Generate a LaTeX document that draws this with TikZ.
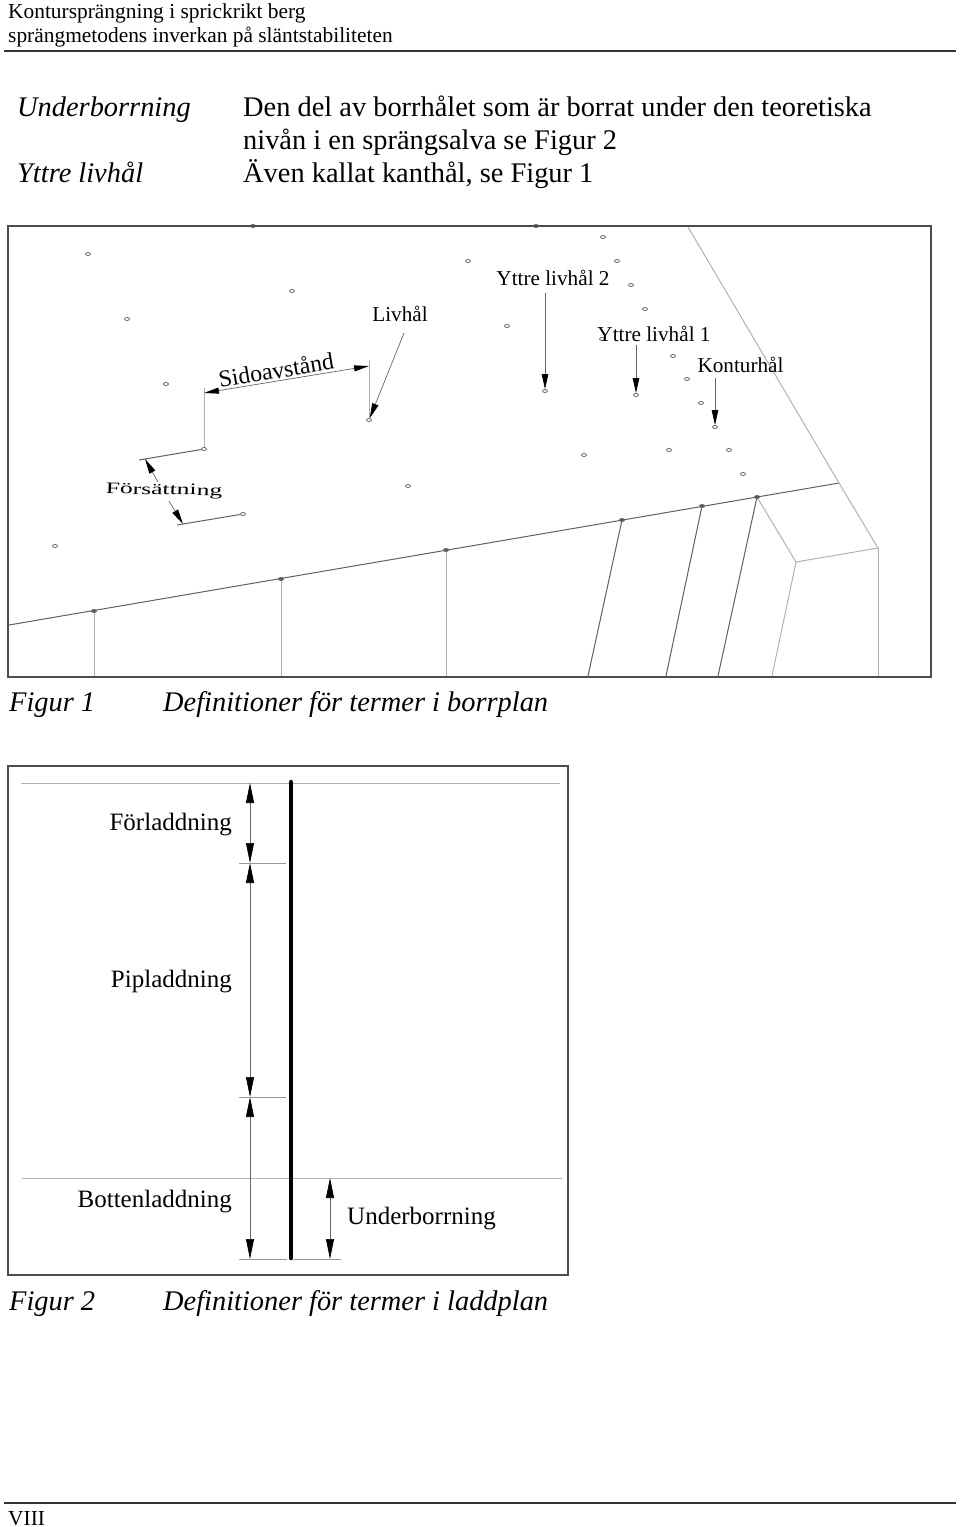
\documentclass[tikz,border=0pt]{standalone}
\usepackage{fontspec}
\setmainfont{Liberation Serif}
\usetikzlibrary{arrows.meta,shapes.geometric}

\tikzset{
  txt/.style={inner sep=0pt,anchor=base west},
  head/.style={txt,font=\fontsize{21.4}{22}\selectfont},
  body/.style={txt,font=\fontsize{28.4}{28}\selectfont},
  capt/.style={txt,font=\fontsize{28.4}{28}\selectfont\itshape},
  lbl/.style={inner sep=0pt,font=\fontsize{21.2}{22}\selectfont},
  big/.style={inner sep=0pt,font=\fontsize{25}{25}\selectfont},
  hole/.style={ellipse,draw=gray!80!black,line width=0.8pt,inner sep=0pt,minimum width=5pt,minimum height=3pt},
  hit/.style={hole,fill=gray!70!black},
  frame/.style={draw=black!70,line width=1.6pt},
  thin line/.style={draw=gray!60,line width=1pt},
  rock/.style={draw=gray!75!black,line width=1pt},
  slim/.style={draw=black!60,line width=0.7pt,-{Triangle[length=15pt,width=6.5pt,black]}},
  dim/.style={draw=black!60,line width=0.7pt,{Triangle[length=20pt,width=8pt,black]}-{Triangle[length=20pt,width=8pt,black]}},
  tick/.style={draw=gray!80,line width=1pt}
}

\begin{document}
\begin{tikzpicture}[x=1pt,y=-1pt]
\useasboundingbox (0,0) rectangle (960,1527);

% page head
\node[head] (H1) at (8,18) {Kontursprängning i sprickrikt berg};
\node[head] (H2) at (8,42) {sprängmetodens inverkan på släntstabiliteten};
\coordinate (HL) at (4,51);
\coordinate (HR) at (956,51);
\path (HL) edge [draw=black!80,line width=1.8pt] (HR);

\node[capt] (T1) at (17,116) {Underborrning};
\node[body] (D1) at (243,116) {Den del av borrhålet som är borrat under den teoretiska};
\node[body] (D2) at (243,149) {nivån i en sprängsalva se Figur 2};
\node[capt] (T2) at (17,182) {Yttre livhål};
\node[body] (D3) at (243,182) {Även kallat kanthål, se Figur 1};

% figure 1
\node[hit] (h27) at (253,226) {};
\node[hit] (h28) at (536,226) {};
\draw[frame] (8,226) rectangle (931,677);

\node[hole] (h1) at (88,254) {};
\node[hole] (h2) at (292,291) {};
\node[hole] (h3) at (127,319) {};
\node[hole] (h4) at (166,384) {};
\node[hole] (h5) at (204,449) {};
\node[hole] (h6) at (369,420) {};
\node[hole] (h7) at (243,514) {};
\node[hole] (h8) at (408,486) {};
\node[hole] (h9) at (468,261) {};
\node[hole] (h10) at (55,546) {};
\node[hole] (h11) at (603,237) {};
\node[hole] (h12) at (617,261) {};
\node[hole] (h13) at (631,285) {};
\node[hole] (h14) at (645,309) {};
\node[hole] (h15) at (507,326) {};
\node[hole] (h16) at (602,339) {};
\node[hole] (h17) at (673,356) {};
\node[hole] (h18) at (687,379) {};
\node[hole] (h19) at (701,403) {};
\node[hole] (h20) at (545,391) {};
\node[hole] (h21) at (636,395) {};
\node[hole] (h22) at (715,427) {};
\node[hole] (h23) at (584,455) {};
\node[hole] (h24) at (669,450) {};
\node[hole] (h25) at (729,450) {};
\node[hole] (h26) at (743,474) {};

\coordinate (G1) at (9,625);
\coordinate (G2) at (839,483);
\coordinate (S1) at (688,227);
\coordinate (S2) at (878,548);
\coordinate (S3) at (796,562);
\coordinate (S4) at (878,676);
\coordinate (S5) at (772,676);
\path (G1) edge [rock] (G2);
\path (S1) edge [thin line] (G2);
\path (G2) edge [thin line] (S2);
\path (S2) edge [thin line] (S3);
\path (S2) edge [thin line] (S4);
\path (S3) edge [thin line] (S5);

\node[hit] (b1) at (94,611) {};
\node[hit] (b2) at (281,579) {};
\node[hit] (b3) at (446,550) {};
\node[hit] (b4) at (622,520) {};
\node[hit] (b5) at (702,506) {};
\node[hit] (b6) at (757,497) {};
\coordinate (e1) at (94,676);
\coordinate (e2) at (281,676);
\coordinate (e3) at (446,676);
\coordinate (e4) at (588,676);
\coordinate (e5) at (666,676);
\coordinate (e6) at (718,676);
\path (b1) edge [thin line] (e1);
\path (b2) edge [thin line] (e2);
\path (b3) edge [thin line] (e3);
\path (b4) edge [rock] (e4);
\path (b5) edge [rock] (e5);
\path (b6) edge [rock] (e6);
\path (b6) edge [thin line] (S3);

\node[inner sep=0pt,rotate=9.5,font=\fontsize{23.8}{24}\selectfont] (Sid) at (276,370) {Sidoavstånd};
\coordinate (s1) at (204,388);
\coordinate (s2) at (204,393);
\coordinate (s3) at (369,360);
\coordinate (s4) at (369,366);
\path (h5) edge [thin line] (s1);
\path (h6) edge [thin line] (s3);
\path (s2) edge [draw=black!60,line width=0.7pt,{Triangle[length=15pt,width=6pt,black]}-{Triangle[length=15pt,width=6pt,black]}] (s4);

\node[lbl] (Liv) at (400,314) {Livhål};
\coordinate (l1) at (404,333);
\path (l1) edge [slim] (h6);

\node[inner sep=0pt,font=\fontsize{16}{16}\selectfont,xscale=1.6,rotate=-1.5] (For) at (164,491) {Försättning};
\coordinate (f1) at (139,460);
\coordinate (f2) at (177,525);
\coordinate (f3) at (158,482);
\coordinate (f4) at (145,459);
\coordinate (f5) at (169,501);
\coordinate (f6) at (183,524);
\path (f1) edge [rock] (h5);
\path (f2) edge [rock] (h7);
\path (f3) edge [slim] (f4);
\path (f5) edge [slim] (f6);

\node[lbl] (Y2) at (553,278) {Yttre livhål 2};
\node[lbl] (Y1) at (654,334) {Yttre livhål 1};
\node[lbl] (Kon) at (740.5,365) {Konturhål};
\coordinate (y2) at (545,293);
\coordinate (y1) at (636,345);
\coordinate (k1) at (715,378);
\path (y2) edge [slim] (h20);
\path (y1) edge [slim] (h21);
\path (k1) edge [slim] (h22);

\node[capt] (F1) at (9,711) {Figur 1};
\node[capt] (F1b) at (163,711) {Definitioner för termer i borrplan};

% figure 2
\draw[frame] (8,766) rectangle (568,1275);

\coordinate (t1) at (21,783);
\coordinate (t2) at (560,783);
\coordinate (u1) at (22,1178);
\coordinate (u2) at (562,1178);
\path (t1) edge [thin line] (t2);
\path (u1) edge [thin line] (u2);

\coordinate (p1) at (291,782);
\coordinate (p2) at (291,1258);
\path (p1) edge [draw=black,line width=4.5pt,line cap=round] (p2);

\coordinate (a0) at (250,783);
\coordinate (a1) at (250,863);
\coordinate (a2) at (250,1097);
\coordinate (a3) at (250,1259);
\coordinate (c1) at (330,1178);
\coordinate (c2) at (330,1259);
\path (a0) edge [dim] (a1);
\path (a1) edge [dim] (a2);
\path (a2) edge [dim] (a3);
\path (c1) edge [dim] (c2);

\coordinate (k1l) at (239,863);
\coordinate (k1r) at (286,863);
\coordinate (k2l) at (239,1097);
\coordinate (k2r) at (286,1097);
\coordinate (k3l) at (239,1259);
\coordinate (k3r) at (287,1259);
\coordinate (k4l) at (292,1259);
\coordinate (k4r) at (341,1259);
\path (k1l) edge [tick] (k1r);
\path (k2l) edge [tick] (k2r);
\path (k3l) edge [tick] (k3r);
\path (k4l) edge [tick] (k4r);

\node[big,anchor=base east] (Fl) at (232,830) {Förladdning};
\node[big,anchor=base east] (Pi) at (232,987) {Pipladdning};
\node[big,anchor=base east] (Bo) at (232,1207) {Bottenladdning};
\node[big,anchor=base west] (Un) at (347,1224) {Underborrning};

\node[capt] (F2) at (9,1310) {Figur 2};
\node[capt] (F2b) at (163,1310) {Definitioner för termer i laddplan};

% page foot
\coordinate (FL) at (4,1503);
\coordinate (FR) at (956,1503);
\path (FL) edge [draw=black!80,line width=1.8pt] (FR);
\node[head] (Pg) at (8,1525) {VIII};
\end{tikzpicture}
\end{document}
